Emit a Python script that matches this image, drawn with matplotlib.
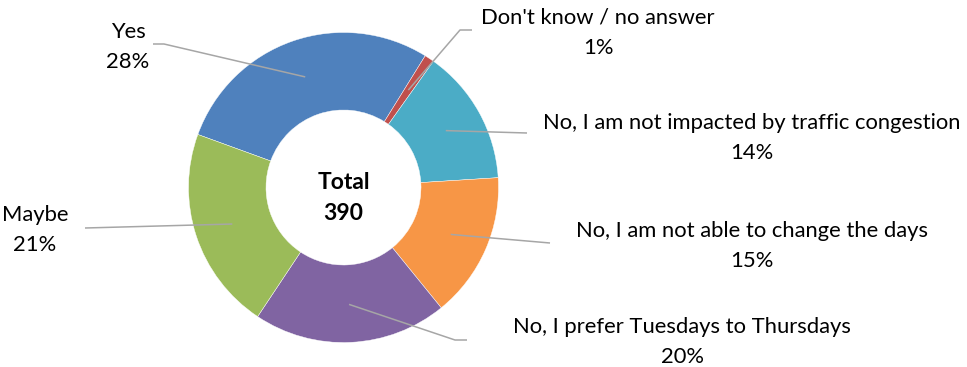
import numpy as np
import matplotlib
matplotlib.use("Agg")
import matplotlib.pyplot as plt

# Survey answers and their shares (percent)
labels = ["Yes", "Don't know / no answer", "No, I am not impacted by traffic congestion",
          "No, I am not able to change the days", "No, I prefer Tuesdays to Thursdays", "Maybe"]
pcts = [28, 1, 14, 15, 20, 21]
total = 390
colors = ["#4F81BD", "#C0504D", "#4BACC6", "#F79646", "#8064A2", "#9BBB59"]

W, H = 967, 367
fig = plt.figure(figsize=(W / 100, H / 100), dpi=100)
ax = fig.add_axes([0, 0, 1, 1])
ax.set_xlim(0, W)
ax.set_ylim(0, H)
ax.set_aspect("equal")
ax.axis("off")

cx, cy, R = 343.5, H - 187.5, 155
wedges, _ = ax.pie(pcts, colors=colors, startangle=160, counterclock=False,
                   center=(cx, cy), radius=R,
                   wedgeprops=dict(width=R * 0.5, edgecolor="white", linewidth=0.3))
ax.set_xlim(0, W)
ax.set_ylim(0, H)

font = "Lato"
fs = 15.8
line_kw = dict(color="#A6A6A6", lw=1.1, solid_capstyle="butt")

# label text position and leader line path (the line starts inside the slice)
layout = [
    ((128, 47), [(164, 44), (153, 44)]),
    ((598, 33), [(460, 30), (472, 30)]),
    ((752, 138), [(527, 133)]),
    ((752, 246), [(550, 243)]),
    ((682, 342), [(455, 340), (467, 340)]),
    ((35, 230), [(85, 228)]),
]

for w, lab, p, ((tx, ty), path) in zip(wedges, labels, pcts, layout):
    mid = np.deg2rad((w.theta1 + w.theta2) / 2)
    sx = cx + 0.755 * R * np.cos(mid)
    sy = cy + 0.755 * R * np.sin(mid)
    xs = [sx] + [q[0] for q in path]
    ys = [sy] + [H - q[1] for q in path]
    ax.plot(xs, ys, **line_kw)
    ax.text(tx, H - ty, f"{lab}\n{p}%", ha="center", va="center", fontsize=fs,
            family=font, linespacing=1.65, color="black")

ax.text(cx, H - 198, f"Total\n{total}", ha="center", va="center", fontsize=16.5,
        family=font, fontweight="bold", linespacing=1.55)

fig.savefig("out.png", dpi=100)
